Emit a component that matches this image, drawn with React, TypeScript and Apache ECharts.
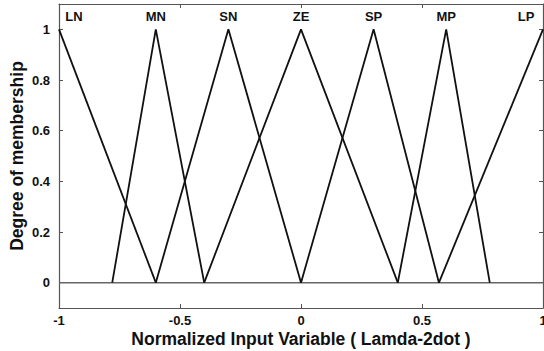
import React, { useEffect, useRef } from "react";
import * as echarts from "echarts";

// Triangular membership functions of the normalized input (breakpoints as [x, μ])
const mfNames = ["LN", "MN", "SN", "ZE", "SP", "MP", "LP"];
const mfLN = [[-1, 1], [-0.6, 0]];
const mfMN = [[-0.78, 0], [-0.6, 1], [-0.4, 0]];
const mfSN = [[-0.6, 0], [-0.3, 1], [0, 0]];
const mfZE = [[-0.4, 0], [0, 1], [0.4, 0]];
const mfSP = [[0, 0], [0.3, 1], [0.57, 0]];
const mfMP = [[0.4, 0], [0.6, 1], [0.78, 0]];
const mfLP = [[0.57, 0], [1, 1]];
const mfCurves = [mfLN, mfMN, mfSN, mfZE, mfSP, mfMP, mfLP];
const baseline = [[-1, 0], [1, 0]];

const xTicks = [-1, -0.5, 0, 0.5, 1];
const yTicks = [0, 0.2, 0.4, 0.6, 0.8, 1];

const FONT = "'Liberation Sans', Arial, sans-serif";
const AXIS_COLOR = "#555";

export default function App() {
  const ref = useRef<HTMLDivElement>(null);

  useEffect(() => {
    if (!ref.current) return;
    const chart = echarts.init(ref.current, null, { renderer: "svg" });

    const labelOffsets: Record<string, number[]> = { LN: [15, 0], LP: [-17, 0] };

    const curveSeries = mfCurves.map((pts, i) => {
      const name = mfNames[i];
      return {
        type: "line",
        name,
        symbol: "circle",
        symbolSize: 0,
        showSymbol: true,
        silent: true,
        lineStyle: { color: "#111", width: 1.8 },
        itemStyle: { color: "#111" },
        label: { show: false },
        data: pts.map((p) => {
          const item: any = { value: p };
          if (p[1] === 1) {
            item.label = {
              show: true,
              position: "top",
              distance: 6,
              offset: labelOffsets[name] || [0, 0],
              formatter: name,
              color: "#111",
              fontFamily: FONT,
              fontWeight: "bold",
              fontSize: 13,
            };
          }
          return item;
        }),
      };
    });

    const axisCommon = {
      type: "value",
      splitLine: { show: false },
      axisLine: { show: true, onZero: false, lineStyle: { color: AXIS_COLOR, width: 1.2 } },
      axisTick: { show: true, inside: true, length: 4, lineStyle: { color: AXIS_COLOR } },
    };

    const tickLabel = {
      color: "#111",
      fontFamily: FONT,
      fontWeight: "bold",
      fontSize: 13,
    };
    const titleStyle = { color: "#111", fontFamily: FONT, fontWeight: "bold", fontSize: 17.5 };

    chart.setOption({
      animation: false,
      backgroundColor: "#fff",
      grid: { left: 59, right: 1, top: 4, bottom: 43, outerBoundsMode: "none", containLabel: false },
      xAxis: [
        {
          ...axisCommon,
          position: "bottom",
          min: -1,
          max: 1,
          interval: 0.5,
          axisTick: { ...axisCommon.axisTick, customValues: xTicks },
          axisLabel: {
            ...tickLabel,
            customValues: xTicks,
            margin: 6,
            formatter: (v: number) => String(v),
          },
          name: "Normalized Input Variable ( Lamda-2dot )",
          nameLocation: "middle",
          nameMoveOverlap: false,
          nameGap: 22,
          nameTextStyle: titleStyle,
        },
        {
          ...axisCommon,
          position: "top",
          min: -1,
          max: 1,
          interval: 0.5,
          axisTick: { ...axisCommon.axisTick, customValues: xTicks },
          axisLabel: { show: false },
        },
      ],
      yAxis: [
        {
          ...axisCommon,
          position: "left",
          min: -0.1,
          max: 1.1,
          axisTick: { ...axisCommon.axisTick, customValues: yTicks },
          axisLabel: {
            ...tickLabel,
            customValues: yTicks,
            margin: 9,
            formatter: (v: number) => String(Math.round(v * 10) / 10),
          },
          name: "Degree of membership",
          nameLocation: "middle",
          nameMoveOverlap: false,
          nameGap: 33,
          nameTextStyle: titleStyle,
        },
        {
          ...axisCommon,
          position: "right",
          min: -0.1,
          max: 1.1,
          axisTick: { ...axisCommon.axisTick, customValues: yTicks },
          axisLabel: { show: false },
        },
      ],
      series: [
        {
          type: "line",
          name: "baseline",
          symbol: "none",
          silent: true,
          lineStyle: { color: "#666", width: 1.5 },
          data: baseline,
        },
        ...curveSeries,
      ],
    });

    return () => chart.dispose();
  }, []);

  return <div ref={ref} style={{ width: 544, height: 351, position: "absolute", left: 0, top: 0 }} />;
}
